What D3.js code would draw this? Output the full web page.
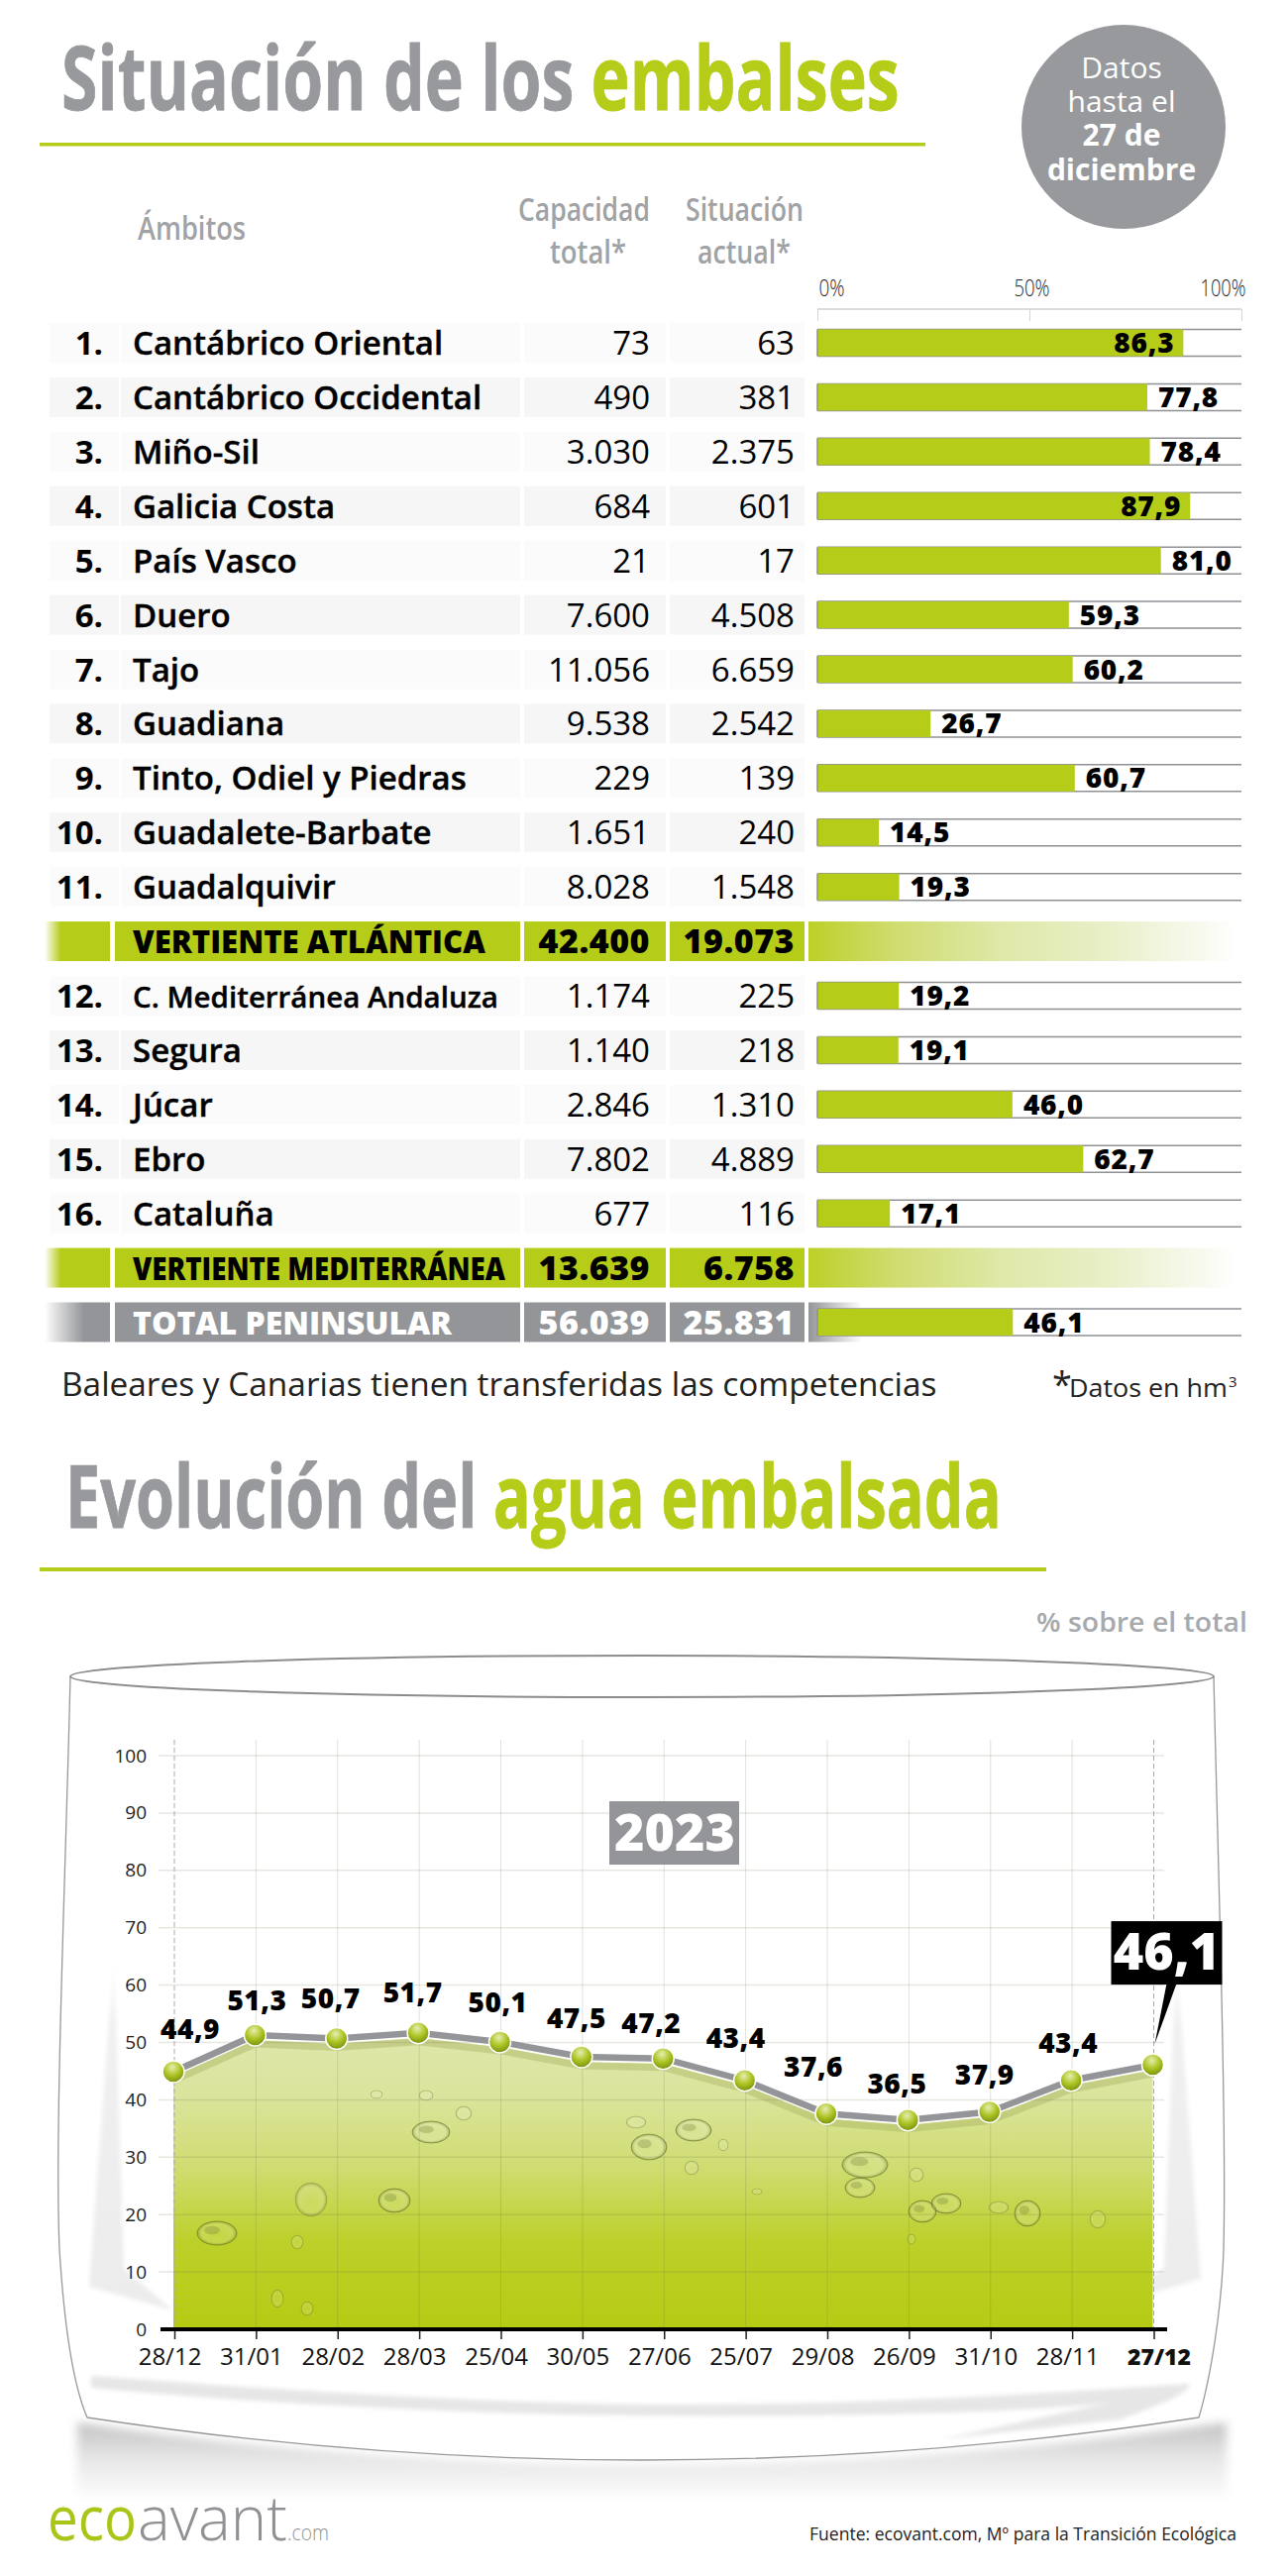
<!DOCTYPE html>
<html>
<head>
<meta charset="utf-8">
<script src="https://cdn.jsdelivr.net/npm/d3@7"></script>
<style>
  html, body { margin: 0; padding: 0; background: #fff; }
  svg { display: block; }
  text { font-family: "Open Sans", sans-serif; }
</style>
</head>
<body>
<div id="chart"></div>
<script>
// Table data
var regions = ['Cantábrico Oriental', 'Cantábrico Occidental', 'Miño-Sil', 'Galicia Costa', 'País Vasco', 'Duero', 'Tajo', 'Guadiana', 'Tinto, Odiel y Piedras', 'Guadalete-Barbate', 'Guadalquivir', 'C. Mediterránea Andaluza', 'Segura', 'Júcar', 'Ebro', 'Cataluña'];
var capacity = [73, 490, 3030, 684, 21, 7600, 11056, 9538, 229, 1651, 8028, 1174, 1140, 2846, 7802, 677];
var current = [63, 381, 2375, 601, 17, 4508, 6659, 2542, 139, 240, 1548, 225, 218, 1310, 4889, 116];
var percent = [86.3, 77.8, 78.4, 87.9, 81.0, 59.3, 60.2, 26.7, 60.7, 14.5, 19.3, 19.2, 19.1, 46.0, 62.7, 17.1];
var slopeNames = ['VERTIENTE ATLÁNTICA', 'VERTIENTE MEDITERRÁNEA'];
var slopeCapacity = [42400, 13639];
var slopeCurrent = [19073, 6758];
var totalName = 'TOTAL PENINSULAR';
var totalCapacity = 56039;
var totalCurrent = 25831;
var totalPercent = 46.1;
var barTicks = [0, 50, 100];

// Evolution chart data
var dates = ['28/12', '31/01', '28/02', '28/03', '25/04', '30/05', '27/06', '25/07', '29/08', '26/09', '31/10', '28/11', '27/12'];
var levels = [44.9, 51.3, 50.7, 51.7, 50.1, 47.5, 47.2, 43.4, 37.6, 36.5, 37.9, 43.4, 46.1];
var levelTicks = [0, 10, 20, 30, 40, 50, 60, 70, 80, 90, 100];

var GREEN = '#b5cc18';
var GREY = '#939598';

var es = d3.formatLocale({ decimal: ',', thousands: '.', grouping: [3], currency: ['', '€'] });
var fmtInt = es.format(',d');
var fmtPct = es.format('.1f');

var svg = d3.select('#chart').append('svg').attr('width', 1300).attr('height', 2600);
var defs = svg.append('defs');

function linear(id, stops, horizontal) {
    var g = defs.append('linearGradient').attr('id', id)
        .attr('x1', 0).attr('y1', 0)
        .attr('x2', horizontal ? 1 : 0).attr('y2', horizontal ? 0 : 1);
    stops.forEach(function(s) {
        g.append('stop').attr('offset', s[0]).attr('stop-color', s[1]).attr('stop-opacity', s[2] === undefined ? 1 : s[2]);
    });
}
linear('greenLeft', [[0, GREEN, 0], [0.25, GREEN, 1], [1, GREEN, 1]], true);
linear('greyLeft', [[0, GREY, 0], [0.6, GREY, 1], [1, GREY, 1]], true);
linear('greenFade', [[0, '#bcd028'], [0.2, '#cfdc6f'], [0.45, '#dfe8a8'], [0.7, '#e9efc8'], [0.93, '#f8faf0'], [1, '#fff']], true);
linear('greyFade', [[0, GREY, 1], [1, GREY, 0]], true);
linear('water', [[0, '#dfe6aa'], [0.2, '#dbe49c'], [0.45, '#cfdc70'], [0.7, '#bcd02a'], [1, '#b5cb13']]);
linear('shadow', [[0, '#c2c2c2'], [0.45, '#e6e6e6'], [1, '#ffffff']]);
linear('sideLight', [[0, '#f4f4f4', 0], [0.2, '#f0f0f0'], [1, '#ececec']]);

var ball = defs.append('radialGradient').attr('id', 'ball').attr('cx', 0.45).attr('cy', 0.3).attr('r', 0.75);
ball.append('stop').attr('offset', 0).attr('stop-color', '#e6eeb0');
ball.append('stop').attr('offset', 0.5).attr('stop-color', '#aec423');
ball.append('stop').attr('offset', 1).attr('stop-color', '#6f8a0c');

var bub = defs.append('radialGradient').attr('id', 'bubble');
bub.append('stop').attr('offset', 0).attr('stop-color', '#fff').attr('stop-opacity', 0.08);
bub.append('stop').attr('offset', 0.75).attr('stop-color', '#fff').attr('stop-opacity', 0.16);
bub.append('stop').attr('offset', 1).attr('stop-color', '#56651c').attr('stop-opacity', 0.4);

defs.append('filter').attr('id', 'blur').attr('x', '-5%').attr('y', '-30%').attr('width', '110%').attr('height', '160%')
    .append('feGaussianBlur').attr('stdDeviation', 5);
defs.append('filter').attr('id', 'soft').attr('x', '-10%').attr('y', '-10%').attr('width', '120%').attr('height', '120%')
    .append('feGaussianBlur').attr('stdDeviation', 2);

// The reference type is condensed, so squeeze a text sideways to a given width
function squeeze(t, x, y, width) {
    var k = width / t.node().getComputedTextLength();
    t.attr('x', 0).attr('y', 0).attr('transform', 'translate(' + x + ',' + y + ') scale(' + k + ',1)');
}

// Small helper for the many single text labels
function label(parent, x, y, str, size, opts) {
    opts = opts || {};
    var t = parent.append('text').attr('x', x).attr('y', y).text(str)
        .attr('font-size', size)
        .attr('font-weight', opts.weight || 400)
        .attr('fill', opts.fill || '#000')
        .attr('text-anchor', opts.anchor || 'start');
    if (opts.spacing) t.attr('letter-spacing', opts.spacing);
    if (opts.bolder) t.attr('stroke', opts.fill || '#000').attr('stroke-width', opts.bolder);
    if (opts.fit) squeeze(t, x, y, opts.fit);
    return t;
}

// Two coloured title on one text element
function title(x, y, grey, green, size, fit) {
    var t = label(svg, x, y, grey + ' ', size, { weight: 700, fill: '#97999c', bolder: 0.8 });
    t.append('tspan').text(green).attr('fill', GREEN).attr('stroke', GREEN);
    squeeze(t, x, y, fit);
}

// ---- Top header
var head = svg.append('g');
title(62, 111, 'Situación de los', 'embalses', 90, 846);
head.append('rect').attr('x', 40).attr('y', 144).attr('width', 894).attr('height', 3.5).attr('fill', GREEN);

head.append('circle').attr('cx', 1134).attr('cy', 128).attr('r', 103).attr('fill', '#97999c');
label(head, 1132, 79, 'Datos', 30, { fill: '#fff', anchor: 'middle', weight: 500 });
label(head, 1132, 113, 'hasta el', 30, { fill: '#fff', anchor: 'middle', weight: 500 });
label(head, 1132, 147, '27 de', 30, { fill: '#fff', anchor: 'middle', weight: 700 });
label(head, 1132, 182, 'diciembre', 30, { fill: '#fff', anchor: 'middle', weight: 700 });

label(head, 139, 242, 'Ámbitos', 32, { weight: 600, fill: '#a0a2a5', fit: 109 });
label(head, 523, 223, 'Capacidad', 32, { weight: 600, fill: '#a0a2a5', fit: 133 });
label(head, 555, 266, 'total*', 32, { weight: 600, fill: '#a0a2a5', fit: 77 });
label(head, 692, 223, 'Situación', 32, { weight: 600, fill: '#a0a2a5', fit: 119 });
label(head, 704, 266, 'actual*', 32, { weight: 600, fill: '#a0a2a5', fit: 94 });

// ---- Table
var barX = d3.scaleLinear().domain([0, 100]).range([825, 1253]);
var rowY = d3.scaleLinear().domain([0, 18]).range([346, 1334.5]);

var barAxis = svg.append('g').attr('transform', 'translate(0,312)')
    .call(d3.axisTop(barX).tickValues(barTicks).tickSize(-12).tickFormat(function(d) { return d + '%'; }));
barAxis.select('.domain').remove();
barAxis.selectAll('line').attr('stroke', '#d5d5d5');
barAxis.append('line').attr('x1', barX(0)).attr('x2', barX(100)).attr('stroke', '#cfcfcf').attr('stroke-width', 1.5);
barAxis.selectAll('.tick text')
    .attr('font-size', 24)
    .attr('font-weight', 300)
    .attr('fill', '#222')
    .attr('dy', 0)
    .attr('text-anchor', function(d) { return d === 0 ? 'start' : d === 100 ? 'end' : 'middle'; })
    .each(function(d) {
        var dx = d === 0 ? 1 : d === 100 ? 4 : 2;
        squeeze(d3.select(this), dx, -13, d === 0 ? 26 : d === 100 ? 46 : 36);
    });

function drawBar(g, value, inside) {
    var y0 = -13.5, h = 27;
    g.append('line').attr('x1', barX(0)).attr('x2', barX(100)).attr('y1', y0).attr('y2', y0).attr('stroke', '#8f9194').attr('stroke-width', 1.5);
    g.append('line').attr('x1', barX(0)).attr('x2', barX(100)).attr('y1', y0 + h).attr('y2', y0 + h).attr('stroke', '#8f9194').attr('stroke-width', 1.5);
    g.append('rect').attr('x', barX(0)).attr('y', y0).attr('width', barX(value) - barX(0)).attr('height', h).attr('fill', GREEN);
    g.append('line').attr('x1', barX(0)).attr('x2', barX(0)).attr('y1', y0).attr('y2', y0 + h).attr('stroke', '#8f9194').attr('stroke-width', 1.5);
    label(g, inside ? barX(value) - 9 : barX(value) + 11, 10, fmtPct(value), 28, { weight: 800, anchor: inside ? 'end' : 'start', spacing: 0.8 });
}

regions.forEach(function(name, i) {
    var row = i < 11 ? i : i + 1;
    var g = svg.append('g').attr('transform', 'translate(0,' + rowY(row) + ')');
    var bg = row % 2 === 0 ? '#fbfbfb' : '#f6f6f6';
    [[50, 70], [122, 403], [529, 143], [676, 136]].forEach(function(s) {
        g.append('rect').attr('x', s[0]).attr('y', -20).attr('width', s[1]).attr('height', 40).attr('fill', bg);
    });
    label(g, 104, 12, (i + 1) + '.', 33, { weight: 700, anchor: 'end' });
    label(g, 134, 12, name, name.length > 22 ? 29.5 : 33, { weight: 600, bolder: 0.4 });
    label(g, 656, 12, fmtInt(capacity[i]), 33, { anchor: 'end' });
    label(g, 802, 12, fmtInt(current[i]), 33, { anchor: 'end' });
    drawBar(g, percent[i], percent[i] > 85);
});

function summaryRow(row, name, cap, cur, color, leftFill, rightFill, rightWidth, textColor, fit) {
    var g = svg.append('g').attr('transform', 'translate(0,' + rowY(row) + ')');
    g.append('rect').attr('x', 45).attr('y', -20).attr('width', 66).attr('height', 40).attr('fill', leftFill);
    [[116, 409], [529, 143], [676, 136]].forEach(function(s) {
        g.append('rect').attr('x', s[0]).attr('y', -20).attr('width', s[1]).attr('height', 40).attr('fill', color);
    });
    g.append('rect').attr('x', 816).attr('y', -20).attr('width', rightWidth).attr('height', 40).attr('fill', rightFill);
    label(g, 134, 12, name, 32, { weight: 800, fill: textColor, fit: fit });
    label(g, 656, 12, fmtInt(cap), 34, { weight: 800, fill: textColor, anchor: 'end', spacing: 0.5 });
    label(g, 802, 12, fmtInt(cur), 34, { weight: 800, fill: textColor, anchor: 'end', spacing: 0.5 });
    return g;
}
summaryRow(11, slopeNames[0], slopeCapacity[0], slopeCurrent[0], GREEN, 'url(#greenLeft)', 'url(#greenFade)', 430, '#000', 356);
summaryRow(17, slopeNames[1], slopeCapacity[1], slopeCurrent[1], GREEN, 'url(#greenLeft)', 'url(#greenFade)', 430, '#000', 376);
var totalRow = summaryRow(18, totalName, totalCapacity, totalCurrent, GREY, 'url(#greyLeft)', 'url(#greyFade)', 54, '#fff', 322);
totalRow.append('rect').attr('x', barX(0)).attr('y', -13.5).attr('width', 428).attr('height', 27).attr('fill', '#fff');
drawBar(totalRow, totalPercent, false);

label(svg, 62, 1409, 'Baleares y Canarias tienen transferidas las competencias', 33, { fill: '#222', fit: 884 });
label(svg, 1062, 1410, '*', 36, { fill: '#222' });
label(svg, 1079, 1410, 'Datos en hm', 25, { fill: '#222', fit: 160 });
label(svg, 1240, 1400, '3', 15, { fill: '#222' });

// ---- Second header
title(66, 1542, 'Evolución del', 'agua embalsada', 88, 945);
svg.append('rect').attr('x', 40).attr('y', 1582).attr('width', 1016).attr('height', 4).attr('fill', GREEN);
label(svg, 1046, 1647, '% sobre el total', 27, { weight: 600, fill: '#a7a9ac', fit: 213 });

// ---- Glass of water
var glass = svg.append('g');
glass.append('path')
    .attr('d', 'M78,2445 Q648,2530 1238,2445 L1238,2525 L78,2525 Z')
    .attr('fill', 'url(#shadow)').attr('filter', 'url(#blur)');
glass.append('path')
    .attr('d', 'M71,1692 C66,1900 55,2150 60,2270 C65,2350 75,2410 88,2440 Q648,2526 1210,2440 C1222,2400 1233,2330 1235,2270 C1238,2150 1230,1900 1225,1692 Z')
    .attr('fill', '#fff').attr('stroke', '#96989a').attr('stroke-width', 1.3);
glass.append('path')
    .attr('d', 'M115,1970 L90,2308 L175,2332 L125,2290 Z')
    .attr('fill', 'url(#sideLight)').attr('filter', 'url(#soft)');
glass.append('path')
    .attr('d', 'M1187,1970 L1212,2300 L1060,2345 L1175,2290 Z')
    .attr('fill', 'url(#sideLight)').attr('filter', 'url(#soft)');
glass.append('path')
    .attr('d', 'M92,2398 C250,2410 450,2424 650,2427 C850,2428 1020,2418 1200,2406 C1204,2414 1170,2428 1130,2442 L950,2462 L1120,2425 C1050,2434 850,2440 650,2438 C450,2436 250,2425 92,2410 Z')
    .attr('fill', '#e6e6e6').attr('filter', 'url(#soft)');
glass.append('ellipse').attr('cx', 648).attr('cy', 1692).attr('rx', 577).attr('ry', 21)
    .attr('fill', '#fff').attr('stroke', '#8a8c8e').attr('stroke-width', 2);

// ---- Evolution chart
var x = d3.scalePoint().domain(d3.range(dates.length)).range([175, 1163.5]);
var y = d3.scaleLinear().domain([0, 100]).range([2351, 1772]);
var chart = svg.append('g');

var area = d3.area()
    .x(function(d, i) { return x(i); })
    .y0(y(0))
    .y1(function(d) { return y(d) + 5; });
chart.append('path').datum(levels).attr('d', area).attr('fill', 'url(#water)');

var line = d3.line()
    .x(function(d, i) { return x(i); })
    .y(function(d) { return y(d); });
chart.append('path').datum(levels).attr('d', line).attr('transform', 'translate(0,9)')
    .attr('fill', 'none').attr('stroke', '#a8b463').attr('stroke-opacity', 0.45).attr('stroke-width', 7);

// Bubbles in the water (decoration only)
var bubbleSpots = [
    [219, 2254, 20, 12], [314, 2220, 16, 17], [398, 2221, 16, 12], [300, 2263, 6, 7], [655, 2167, 18, 13],
    [873, 2185, 23, 13], [868, 2208, 15, 10], [931, 2232, 14, 11], [955, 2224, 15, 10], [1008, 2228, 10, 6],
    [1037, 2234, 13, 13], [1108, 2240, 8, 9], [698, 2188, 7, 7], [925, 2195, 7, 7], [764, 2212, 5, 3],
    [435, 2152, 19, 11], [468, 2133, 8, 7], [642, 2142, 10, 6], [700, 2150, 18, 11], [730, 2165, 5, 6],
    [380, 2114, 6, 4], [430, 2115, 7, 5], [280, 2320, 6, 9], [310, 2330, 6, 7], [920, 2260, 4, 5]
];
var bubbleGroup = chart.selectAll('.bubble').data(bubbleSpots).enter().append('g').attr('class', 'bubble')
    .attr('transform', function(d) { return 'translate(' + d[0] + ',' + d[1] + ')'; });
bubbleGroup.append('ellipse')
    .attr('rx', function(d) { return d[2]; }).attr('ry', function(d) { return d[3]; })
    .attr('fill', 'url(#bubble)')
    .attr('stroke', '#55641c')
    .attr('stroke-opacity', function(d) { return d[2] > 12 && d[1] !== 2220 ? 0.5 : 0.15; });
bubbleGroup.filter(function(d) { return d[2] > 12 && d[1] !== 2220; }).append('ellipse')
    .attr('cx', function(d) { return -d[2] * 0.25; }).attr('cy', function(d) { return -d[3] * 0.25; })
    .attr('rx', function(d) { return d[2] * 0.4; }).attr('ry', function(d) { return d[3] * 0.35; })
    .attr('fill', '#6f7d3a').attr('fill-opacity', 0.3);

// Grid
chart.selectAll('.gridH').data(levelTicks.slice(1)).enter().append('line').attr('class', 'gridH')
    .attr('x1', 160).attr('x2', 1175)
    .attr('y1', function(d) { return y(d); }).attr('y2', function(d) { return y(d); })
    .attr('stroke', '#6a6f4a').attr('stroke-opacity', 0.17).attr('stroke-width', 1.5);
chart.selectAll('.gridV').data(d3.range(dates.length)).enter().append('line').attr('class', 'gridV')
    .attr('x1', function(d) { return x(d) + 1; }).attr('x2', function(d) { return x(d) + 1; })
    .attr('y1', 1756).attr('y2', y(0))
    .attr('stroke', function(d) { return d === 0 || d === dates.length - 1 ? '#a9a9a9' : '#6a6f4a'; })
    .attr('stroke-opacity', function(d) { return d === 0 || d === dates.length - 1 ? 1 : 0.2; })
    .attr('stroke-dasharray', function(d) { return d === 0 || d === dates.length - 1 ? '5,3' : null; });

// Axes
var yAxis = chart.append('g').attr('transform', 'translate(175,0)')
    .call(d3.axisLeft(y).tickValues(levelTicks).tickSize(0).tickPadding(27));
yAxis.select('.domain').remove();
yAxis.selectAll('text').attr('font-size', 19).attr('fill', '#222').attr('font-weight', 400);

var xAxis = chart.append('g').attr('transform', 'translate(0,' + y(0) + ')')
    .call(d3.axisBottom(x).tickSize(10).tickFormat(function(i) { return dates[i]; }));
xAxis.select('.domain').remove();
xAxis.selectAll('line').attr('stroke', '#222').attr('stroke-width', 1.5).attr('transform', 'translate(1,0)');
xAxis.selectAll('text')
    .attr('y', 36).attr('dy', 0)
    .attr('dx', function(i) { return i === dates.length - 1 ? 6 : -4; })
    .attr('font-size', function(i) { return i === dates.length - 1 ? 23 : 24; })
    .attr('fill', '#111')
    .attr('font-weight', function(i) { return i === dates.length - 1 ? 800 : 400; });
chart.append('line').attr('x1', 162).attr('x2', 1178).attr('y1', y(0)).attr('y2', y(0)).attr('stroke', '#000').attr('stroke-width', 4);

// Line, markers and values
chart.append('path').datum(levels).attr('d', line)
    .attr('fill', 'none').attr('stroke', GREY).attr('stroke-width', 6.5);
chart.selectAll('.mark').data(levels).enter().append('circle').attr('class', 'mark')
    .attr('cx', function(d, i) { return x(i); })
    .attr('cy', function(d) { return y(d); })
    .attr('r', 11)
    .attr('fill', 'url(#ball)').attr('stroke', '#fff').attr('stroke-width', 1.5);

// Hand placed offsets, as in the picture the labels avoid the line
var labelNudge = [[17, -33], [2, -25], [-6, -30], [-5.5, -31], [-2, -30], [-5, -29], [-12, -26], [-9, -33], [-13, -37], [-11, -27], [-5, -28], [-3, -28]];
levels.slice(0, -1).forEach(function(v, i) {
    label(chart, x(i) + labelNudge[i][0], y(v) + labelNudge[i][1], fmtPct(v), 28, { weight: 800, anchor: 'middle', spacing: 0.5 });
});

// Callout for the last value
var lastX = x(levels.length - 1), lastY = y(levels[levels.length - 1]);
chart.append('path')
    .attr('d', 'M' + (lastX + 14) + ',' + (lastY - 82) + ' L' + (lastX + 24) + ',' + (lastY - 82) + ' L' + (lastX + 2) + ',' + (lastY - 21) + ' Z')
    .attr('fill', '#000');
chart.append('rect').attr('x', lastX - 42).attr('y', lastY - 145).attr('width', 112).attr('height', 64).attr('fill', '#000');
label(chart, lastX + 14, lastY - 96, fmtPct(levels[levels.length - 1]), 52, { weight: 800, fill: '#fff', anchor: 'middle' });

// Year tag
chart.append('rect').attr('x', 615).attr('y', 1818).attr('width', 131).attr('height', 64).attr('fill', GREY);
label(chart, 681, 1868, '2023', 52, { weight: 800, fill: '#fff', anchor: 'middle' });

// ---- Footer
label(svg, 48, 2564, 'eco', 62, { fill: '#a9c618', fit: 90 });
label(svg, 139, 2564, 'avant', 62, { weight: 300, fill: '#8f9194', fit: 151 });
label(svg, 290, 2564, '.com', 22, { weight: 300, fill: '#8f9194', fit: 42 });
label(svg, 817, 2564, 'Fuente: ecovant.com, Mº para la Transición Ecológica', 18, { fill: '#222', fit: 431 });
</script>
</body>
</html>
